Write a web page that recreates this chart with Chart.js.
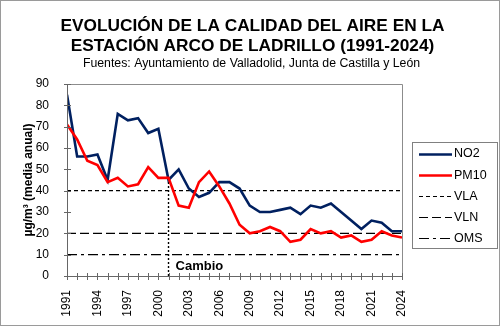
<!DOCTYPE html>
<html><head><meta charset="utf-8">
<script src="https://cdn.jsdelivr.net/npm/chart.js@4.4.0/dist/chart.umd.min.js"></script>
<style>html,body{margin:0;padding:0;background:#fff;}</style>
</head><body>
<canvas id="c" width="500" height="326"></canvas>
<script>
// ---- data ----
const years = [1991,1992,1993,1994,1995,1996,1997,1998,1999,2000,2001,2002,2003,2004,2005,2006,2007,2008,2009,2010,2011,2012,2013,2014,2015,2016,2017,2018,2019,2020,2021,2022,2023,2024];
const no2  = [85,56,56,57,45,76,73,74,67,69,45,50,41,37,39,44,44,41,33,30,30,31,32,29,33,32,34,30,26,22,26,25,21,21];
const pm10 = [71,64,54,52,44,46,42,43,51,46,46,33,32,44,49,42,34,24,20,21,23,21,16,17,22,20,21,18,19,16,17,21,19,18];
const VLA = 40, VLN = 20, OMS = 10;
const cambioYear = 2001, cambioTop = 46;
const xTickLabels = [1991,1994,1997,2000,2003,2006,2009,2012,2015,2018,2021,2024];
const yTickValues = [0,10,20,30,40,50,60,70,80,90];
const titleLines = ['EVOLUCIÓN DE LA CALIDAD DEL AIRE EN LA','ESTACIÓN ARCO DE LADRILLO (1991-2024)'];
const subtitle = 'Fuentes: Ayuntamiento de Valladolid, Junta de Castilla y León';
const yTitle = 'µg/m³ (media anual)';
const legendNames = ['NO2','PM10','VLA','VLN','OMS'];

const FONT = '"Liberation Sans", Arial, sans-serif';
const NAVY = '#002060', RED = '#ff0000';

const pts = arr => years.map((y,i)=>({x:y,y:arr[i]}));
const hline = v => [{x:years[0],y:v},{x:years[years.length-1],y:v}];

const styles = [
  {color:NAVY, width:2.6, dash:[]},
  {color:RED, width:2.6, dash:[]},
  {color:'#000', width:1.2, dash:[4,3]},
  {color:'#000', width:1.2, dash:[9,4]},
  {color:'#000', width:1.2, dash:[10,4,3,4]}
];

const datasets = [
  {label:legendNames[0], data:pts(no2), order:1},
  {label:legendNames[1], data:pts(pm10), order:0},
  {label:legendNames[2], data:hline(VLA), order:3},
  {label:legendNames[3], data:hline(VLN), order:3},
  {label:legendNames[4], data:hline(OMS), order:3},
].map((d,i)=>Object.assign(d,{borderColor:styles[i].color,borderWidth:styles[i].width,borderDash:styles[i].dash,pointRadius:0,tension:0,fill:false}));
datasets.push({label:'Cambio', data:[{x:cambioYear,y:0},{x:cambioYear,y:cambioTop}], borderColor:'#000', borderWidth:1.4, borderDash:[2,2], pointRadius:0, order:2});

const decor = {
  id:'decor',
  beforeDraw(chart){
    const c=chart.ctx; c.save(); c.fillStyle='#fff'; c.fillRect(0,0,chart.width,chart.height); c.restore();
  },
  afterDatasetsDraw(chart){
    const c=chart.ctx, a=chart.chartArea, xs=chart.scales.x, ys=chart.scales.y;
    c.save();
    c.lineWidth=1; c.strokeStyle='#8c8c8c';
    c.beginPath(); c.moveTo(Math.round(a.left)+0.5, Math.round(a.top)+0.5); c.lineTo(Math.round(a.right)+0.5, Math.round(a.top)+0.5); c.lineTo(Math.round(a.right)+0.5, Math.round(a.bottom)+0.5); c.stroke();
    c.strokeStyle='#666';
    const L=Math.round(a.left)+0.5, B=Math.round(a.bottom)+0.5;
    c.beginPath(); c.moveTo(L, Math.round(a.top)+0.5); c.lineTo(L,B); c.lineTo(Math.round(a.right)+0.5,B); c.stroke();
    c.beginPath();
    years.forEach(y=>{ const px=Math.round(xs.getPixelForValue(y))+0.5; c.moveTo(px,B-3.5); c.lineTo(px,B+3.5); });
    yTickValues.forEach(v=>{ const py=Math.round(ys.getPixelForValue(v))+0.5; c.moveTo(L-3.5,py); c.lineTo(L+3.5,py); });
    c.stroke();
    c.restore();
  },
  afterDraw(chart){
    const c=chart.ctx, xs=chart.scales.x, ys=chart.scales.y, a=chart.chartArea;
    c.save();
    c.fillStyle='#000'; c.textAlign='center'; c.textBaseline='alphabetic';
    c.font='bold 17.3px '+FONT;
    c.fillText(titleLines[0],252.5,31);
    c.fillText(titleLines[1],252.5,51);
    c.font='12.3px '+FONT;
    c.fillText(subtitle,251.5,66.5);
    // y title
    c.save(); c.translate(29,(a.top+a.bottom)/2); c.rotate(-Math.PI/2);
    c.font='bold 12px '+FONT; c.textBaseline='middle'; c.fillText(yTitle,0,0); c.restore();
    // Cambio
    c.font='bold 13px '+FONT; c.textAlign='left'; c.textBaseline='alphabetic';
    c.fillText('Cambio', xs.getPixelForValue(cambioYear)+7, 270);
    // legend
    c.lineWidth=1; c.strokeStyle='#808080';
    c.strokeRect(412.5,142.5,85,106);
    c.font='12.5px '+FONT; c.textBaseline='middle';
    legendNames.forEach((n,i)=>{
      const y=153.5+i*21.1, s=styles[i];
      c.save(); c.strokeStyle=s.color; c.lineWidth=s.width; c.setLineDash(s.dash);
      c.beginPath(); c.moveTo(419,Math.round(y)+0.5); c.lineTo(452,Math.round(y)+0.5); c.stroke(); c.restore();
      c.fillStyle='#000'; c.fillText(n,454,y+0.5);
    });
    // outer border
    c.strokeStyle='#9a9a9a'; c.lineWidth=1; c.setLineDash([]);
    c.strokeRect(0.5,0.5,chart.width-1,chart.height-1);
    c.restore();
  }
};

new Chart(document.getElementById('c'), {
  type:'line',
  data:{datasets},
  options:{
    responsive:false, animation:false, devicePixelRatio:1,
    layout:{padding:{top:84,right:98,left:0,bottom:0}},
    plugins:{legend:{display:false}, title:{display:false}, tooltip:{enabled:false}},
    scales:{
      x:{type:'linear', min:1991, max:2024,
        grid:{display:false}, border:{display:false},
        ticks:{stepSize:3, autoSkip:false, minRotation:90, maxRotation:90, padding:6, color:'#000', font:{family:FONT,size:12}, callback:v=>String(v)},
        afterBuildTicks:s=>{ s.ticks = xTickLabels.map(v=>({value:v})); },
        afterFit:s=>{ s.height=50; }
      },
      y:{type:'linear', min:0, max:90,
        grid:{display:false}, border:{display:false},
        ticks:{stepSize:10, padding:10, color:'#000', font:{family:FONT,size:12}},
        afterBuildTicks:s=>{ s.ticks = yTickValues.map(v=>({value:v})); },
        afterFit:s=>{ s.width=67; }
      }
    }
  },
  plugins:[decor]
});
</script>
</body></html>
